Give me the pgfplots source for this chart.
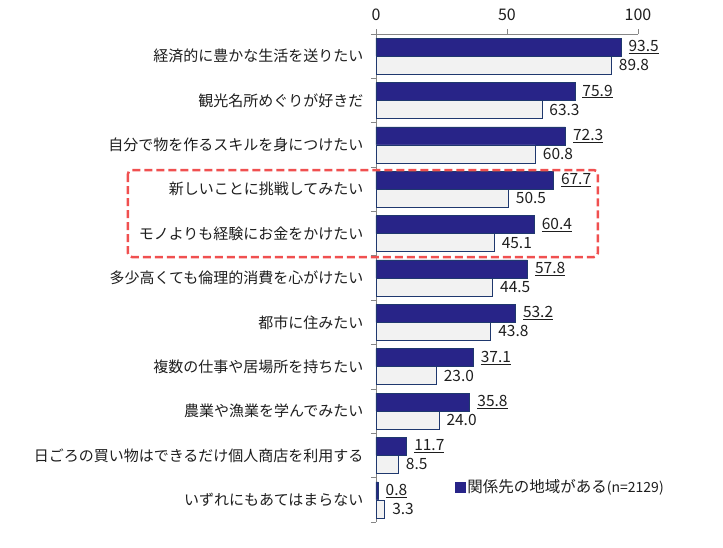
\documentclass[border=0pt]{standalone}
\usepackage{fontspec}
\setmainfont{Noto Sans CJK JP}
\usepackage{pgfplots}
\pgfplotsset{compat=1.18}
\definecolor{navy}{RGB}{40,36,136}
\definecolor{barline}{RGB}{31,56,110}
\definecolor{lightbar}{RGB}{242,242,242}
\definecolor{axisgray}{RGB}{134,134,134}
\definecolor{boxred}{RGB}{240,80,80}
\definecolor{txt}{RGB}{30,30,30}

\begin{document}
\begin{tikzpicture}
\begin{axis}[
  xbar,
  scale only axis,
  width=262pt, height=488pt,
  xmin=0, xmax=100,
  ymin=-0.5, ymax=10.5,
  y dir=reverse,
  clip=false,
  axis x line*=top, axis y line*=left,
  axis line style={axisgray, line width=0.8pt},
  xtick={0,50,100},
  ytick={0,...,10},
  yticklabels={
    経済的に豊かな生活を送りたい,
    観光名所めぐりが好きだ,
    自分で物を作るスキルを身につけたい,
    新しいことに挑戦してみたい,
    モノよりも経験にお金をかけたい,
    多少高くても倫理的消費を心がけたい,
    都市に住みたい,
    複数の仕事や居場所を持ちたい,
    農業や漁業を学んでみたい,
    日ごろの買い物はできるだけ個人商店を利用する,
    いずれにもあてはまらない},
  tick align=outside,
  major tick length=5pt,
  x tick style={axisgray, line width=0.8pt},
  y tick style={draw=none},
  extra y ticks={-0.5,0.5,...,10.5},
  extra y tick labels={},
  extra y tick style={y tick style={draw=axisgray, line width=0.8pt}},
  /pgf/number format/assume math mode=true,
  tick label style={text=txt},
  yticklabel style={font=\fontsize{15}{17}\selectfont, xshift=-4pt},
  xticklabel style={font=\fontsize{16}{18}\selectfont, yshift=5pt},
  bar width=0.406,
  nodes near coords style={font=\fontsize{15.5}{17}\selectfont, text=txt, anchor=west, xshift=4pt},
  legend style={at={(0.30,0.072)}, anchor=west, draw=none, fill=none,
    font=\fontsize{15.5}{17}\selectfont, text=txt, inner sep=0pt},
  legend image code/.code={\fill[navy] (0pt,-5pt) rectangle (10pt,5pt);},
]
\addplot[fill=navy, draw=barline, line width=0.6pt, bar shift=-0.203,
  nodes near coords={\underline{\pgfmathprintnumber[fixed,fixed zerofill,precision=1]{\pgfplotspointmeta}}}]
  coordinates {
  (93.5,0) (75.9,1) (72.3,2) (67.7,3) (60.4,4) (57.8,5)
  (53.2,6) (37.1,7) (35.8,8) (11.7,9) (0.8,10)
};
\addlegendentry{関係先の地域がある{\fontsize{14}{16}\selectfont(n=2129)}}
\addplot[fill=lightbar, draw=barline, line width=0.6pt, bar shift=0.203, forget plot,
  nodes near coords={\pgfmathprintnumber[fixed,fixed zerofill,precision=1]{\pgfplotspointmeta}}]
  coordinates {
  (89.8,0) (63.3,1) (60.8,2) (50.5,3) (45.1,4) (44.5,5)
  (43.8,6) (23.0,7) (24.0,8) (8.5,9) (3.3,10)
};
\draw[boxred, line width=2.5pt, dash pattern=on 8pt off 4pt, rounded corners=4pt]
  (axis cs:-94.7,2.566) rectangle (axis cs:84.7,4.527);
\end{axis}
\pgfresetboundingbox
\useasboundingbox ([shift={(-376pt,-25pt)}]current axis.south west)
  rectangle ([shift={(347pt,522pt)}]current axis.south west);
\end{tikzpicture}
\end{document}
